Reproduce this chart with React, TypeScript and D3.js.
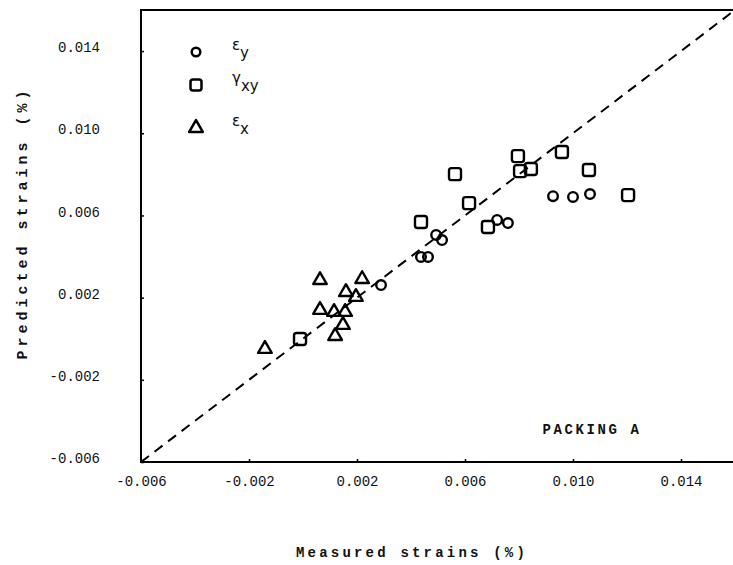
import React, { useRef, useEffect } from 'react';
import * as d3 from 'd3';

// measured / predicted strains (%)
const exMeasured = [-0.00141, 0.00063, 0.00219, 0.00159, 0.00196, 0.00063, 0.00115, 0.00156, 0.00148, 0.00119];
const exPredicted = [-0.00045, 0.0029, 0.00295, 0.00232, 0.00208, 0.00145, 0.00135, 0.00135, 0.00072, 0.00018];

const gxyMeasured = [-0.00011, 0.00437, 0.00615, 0.00685, 0.00563, 0.00796, 0.00804, 0.00844, 0.00959, 0.01059, 0.01204];
const gxyPredicted = [-0.00001, 0.00568, 0.0066, 0.00544, 0.00801, 0.00889, 0.00816, 0.00826, 0.00909, 0.00821, 0.00699];

const eyMeasured = [0.00289, 0.00437, 0.00463, 0.00493, 0.00515, 0.00719, 0.00759, 0.00926, 0.01, 0.01063];
const eyPredicted = [0.00261, 0.00398, 0.00398, 0.00505, 0.0048, 0.00578, 0.00563, 0.00694, 0.0069, 0.00704];

const tickValues = [-0.006, -0.002, 0.002, 0.006, 0.010, 0.014];
const tickLabels = ['-0.006', '-0.002', '0.002', '0.006', '0.010', '0.014'];

const App = () => {
  const svgRef = useRef<SVGSVGElement>(null);

  useEffect(() => {
    const svg = d3.select(svgRef.current);
    svg.selectAll('*').remove();

    const x = d3.scaleLinear().domain([-0.006, 0.016]).range([141, 735]);
    const y = d3.scaleLinear().domain([-0.006, 0.016]).range([462, 10]);

    const mono = '"Liberation Mono", "DejaVu Sans Mono", monospace';

    // frame (top, left, bottom)
    svg.append('path')
      .attr('d', `M${x(0.016)},${y(0.016)} H${x(-0.006)} V${y(-0.006)} H${x(0.016)}`)
      .attr('fill', 'none')
      .attr('stroke', '#000')
      .attr('stroke-width', 2);

    // axes
    const xAxis = svg.append('g')
      .attr('transform', `translate(0,${y(-0.006)})`)
      .call(d3.axisBottom(x).tickValues(tickValues).tickSize(-3).tickFormat((d, i) => tickLabels[i]));
    xAxis.select('.domain').remove();
    xAxis.selectAll('line').attr('stroke-width', 1.5);
    xAxis.selectAll('text')
      .attr('y', 14)
      .attr('font-family', mono)
      .attr('font-size', 14)
      .attr('fill', '#111');

    const yAxis = svg.append('g')
      .attr('transform', `translate(${x(-0.006)},0)`)
      .call(d3.axisLeft(y).tickValues(tickValues).tickSize(-3).tickFormat((d, i) => tickLabels[i]));
    yAxis.select('.domain').remove();
    yAxis.selectAll('line').attr('stroke-width', 1.5);
    yAxis.selectAll('text')
      .attr('x', -41)
      .attr('dy', '0.05em')
      .attr('font-family', mono)
      .attr('font-size', 14)
      .attr('fill', '#111');

    // 1:1 line
    svg.append('line')
      .attr('x1', x(-0.006)).attr('y1', y(-0.006))
      .attr('x2', x(0.016)).attr('y2', y(0.016))
      .attr('stroke', '#000')
      .attr('stroke-width', 2)
      .attr('stroke-dasharray', '10,7');

    const mark = { fill: 'none', stroke: '#000', sw: 2.4 };

    // epsilon x: triangles
    const tri = d3.symbol().type(d3.symbolTriangle).size(80);
    svg.selectAll('.ex')
      .data(d3.range(exMeasured.length))
      .join('path')
      .attr('class', 'ex')
      .attr('d', tri)
      .attr('transform', i => `translate(${x(exMeasured[i])},${y(exPredicted[i]) + 1})`)
      .attr('fill', mark.fill)
      .attr('stroke', mark.stroke)
      .attr('stroke-width', mark.sw)
      .attr('stroke-linejoin', 'round');

    // gamma xy: squares
    svg.selectAll('.gxy')
      .data(d3.range(gxyMeasured.length))
      .join('rect')
      .attr('class', 'gxy')
      .attr('x', i => x(gxyMeasured[i]) - 6)
      .attr('y', i => y(gxyPredicted[i]) - 6)
      .attr('width', 12)
      .attr('height', 12)
      .attr('rx', 2.5)
      .attr('fill', mark.fill)
      .attr('stroke', mark.stroke)
      .attr('stroke-width', mark.sw);

    // epsilon y: circles
    svg.selectAll('.ey')
      .data(d3.range(eyMeasured.length))
      .join('circle')
      .attr('class', 'ey')
      .attr('cx', i => x(eyMeasured[i]))
      .attr('cy', i => y(eyPredicted[i]))
      .attr('r', 4.8)
      .attr('fill', mark.fill)
      .attr('stroke', mark.stroke)
      .attr('stroke-width', mark.sw);

    // legend
    const lg = svg.append('g').attr('transform', 'translate(196,0)');
    lg.append('circle').attr('cx', 0).attr('cy', 52).attr('r', 4.3)
      .attr('fill', 'none').attr('stroke', '#000').attr('stroke-width', 2.5);
    lg.append('rect').attr('x', -5.5).attr('y', 79.5).attr('width', 11).attr('height', 11).attr('rx', 2.5)
      .attr('fill', 'none').attr('stroke', '#000').attr('stroke-width', 2.5);
    lg.append('path').attr('d', tri).attr('transform', 'translate(0,128)')
      .attr('fill', 'none').attr('stroke', '#000').attr('stroke-width', 2.5).attr('stroke-linejoin', 'round');

    const entries = [
      { y: 50, main: 'ε', sub: 'y' },
      { y: 83, main: 'γ', sub: 'xy' },
      { y: 126, main: 'ε', sub: 'x' },
    ];
    entries.forEach(e => {
      const t = lg.append('text')
        .attr('x', 36)
        .attr('y', e.y)
        .attr('font-family', '"DejaVu Sans", sans-serif')
        .attr('font-size', 15)
        .attr('fill', '#111');
      t.append('tspan').text(e.main);
      t.append('tspan').attr('dy', 8).attr('font-size', 15).text(e.sub);
    });

    svg.append('text')
      .attr('x', 592)
      .attr('y', 434)
      .attr('text-anchor', 'middle')
      .attr('font-family', mono)
      .attr('font-size', 14)
      .attr('font-weight', 'bold')
      .attr('letter-spacing', 2.6)
      .attr('fill', '#111')
      .text('PACKING A');

    // axis titles
    svg.append('text')
      .attr('x', 412)
      .attr('y', 557)
      .attr('text-anchor', 'middle')
      .attr('font-family', mono)
      .attr('font-size', 14)
      .attr('font-weight', 'bold')
      .attr('letter-spacing', 3.2)
      .attr('fill', '#111')
      .text('Measured strains (%)');

    svg.append('text')
      .attr('transform', 'translate(27,223) rotate(-90)')
      .attr('text-anchor', 'middle')
      .attr('font-family', mono)
      .attr('font-size', 15)
      .attr('font-weight', 'bold')
      .attr('letter-spacing', 4)
      .attr('fill', '#111')
      .text('Predicted strains (%)');
  }, []);

  return (
    <svg
      ref={svgRef}
      width={733}
      height={565}
      style={{ position: 'absolute', left: 0, top: 0, background: '#fff' }}
    />
  );
};

export default App;
